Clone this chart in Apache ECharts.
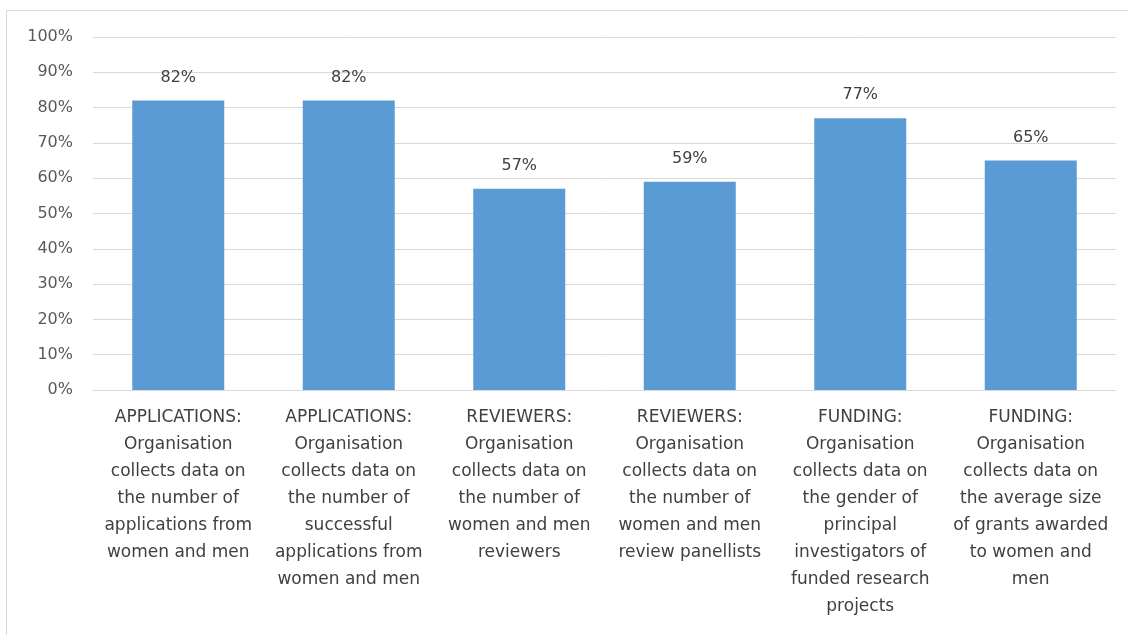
<!DOCTYPE html>
<html lang="en">
<head>
    <meta charset="UTF-8">
    <title>Chart</title>
    <script src="https://cdn.jsdelivr.net/npm/echarts@6/dist/echarts.min.js"></script>
    <style>
        body { margin: 0; background: #fff; }
        #frame { position: absolute; left: 6px; top: 10px; width: 1130px; height: 640px; border: 1px solid #d9d9d9; box-sizing: border-box; }
        #main { width: 1128px; height: 635px; }
    </style>
</head>
<body>
<div id="frame"></div>
<div id="main"></div>
<script>
    // category labels (line breaks as in the picture)
    let categories = [
        'APPLICATIONS:\nOrganisation\ncollects data on\nthe number of\napplications from\nwomen and men',
        'APPLICATIONS:\nOrganisation\ncollects data on\nthe number of\nsuccessful\napplications from\nwomen and men',
        'REVIEWERS:\nOrganisation\ncollects data on\nthe number of\nwomen and men\nreviewers',
        'REVIEWERS:\nOrganisation\ncollects data on\nthe number of\nwomen and men\nreview panellists',
        'FUNDING:\nOrganisation\ncollects data on\nthe gender of\nprincipal\ninvestigators of\nfunded research\nprojects',
        'FUNDING:\nOrganisation\ncollects data on\nthe average size\nof grants awarded\nto women and\nmen'
    ]
    let values = [82, 82, 57, 59, 77, 65]

    var myChart = echarts.init(document.getElementById('main'))
    let font = '"DejaVu Sans", sans-serif'

    option = {
        animation: false,
        textStyle: { fontFamily: font },
        grid: { left: 93, right: 12, top: 37, bottom: 245 },
        xAxis: {
            type: 'category',
            data: categories,
            axisLine: { show: true, lineStyle: { color: '#d9d9d9' } },
            axisTick: { show: false },
            axisLabel: {
                interval: 0,
                color: '#404040',
                fontSize: 17,
                lineHeight: 27,
                margin: 14,
                fontFamily: font
            }
        },
        yAxis: {
            type: 'value',
            min: 0,
            max: 100,
            interval: 10,
            axisLine: { show: false },
            axisTick: { show: false },
            axisLabel: {
                formatter: '{value}%',
                color: '#595959',
                fontSize: 16,
                margin: 20,
                fontFamily: font
            },
            splitLine: { lineStyle: { color: '#d9d9d9' } }
        },
        series: [{
            type: 'bar',
            data: values,
            barWidth: 92,
            itemStyle: { color: '#5b9bd5' },
            label: {
                show: true,
                position: 'top',
                distance: 15,
                formatter: '{c}%',
                color: '#404040',
                fontSize: 16,
                fontFamily: font
            }
        }]
    };

    myChart.setOption(option);
</script>
</body>
</html>
